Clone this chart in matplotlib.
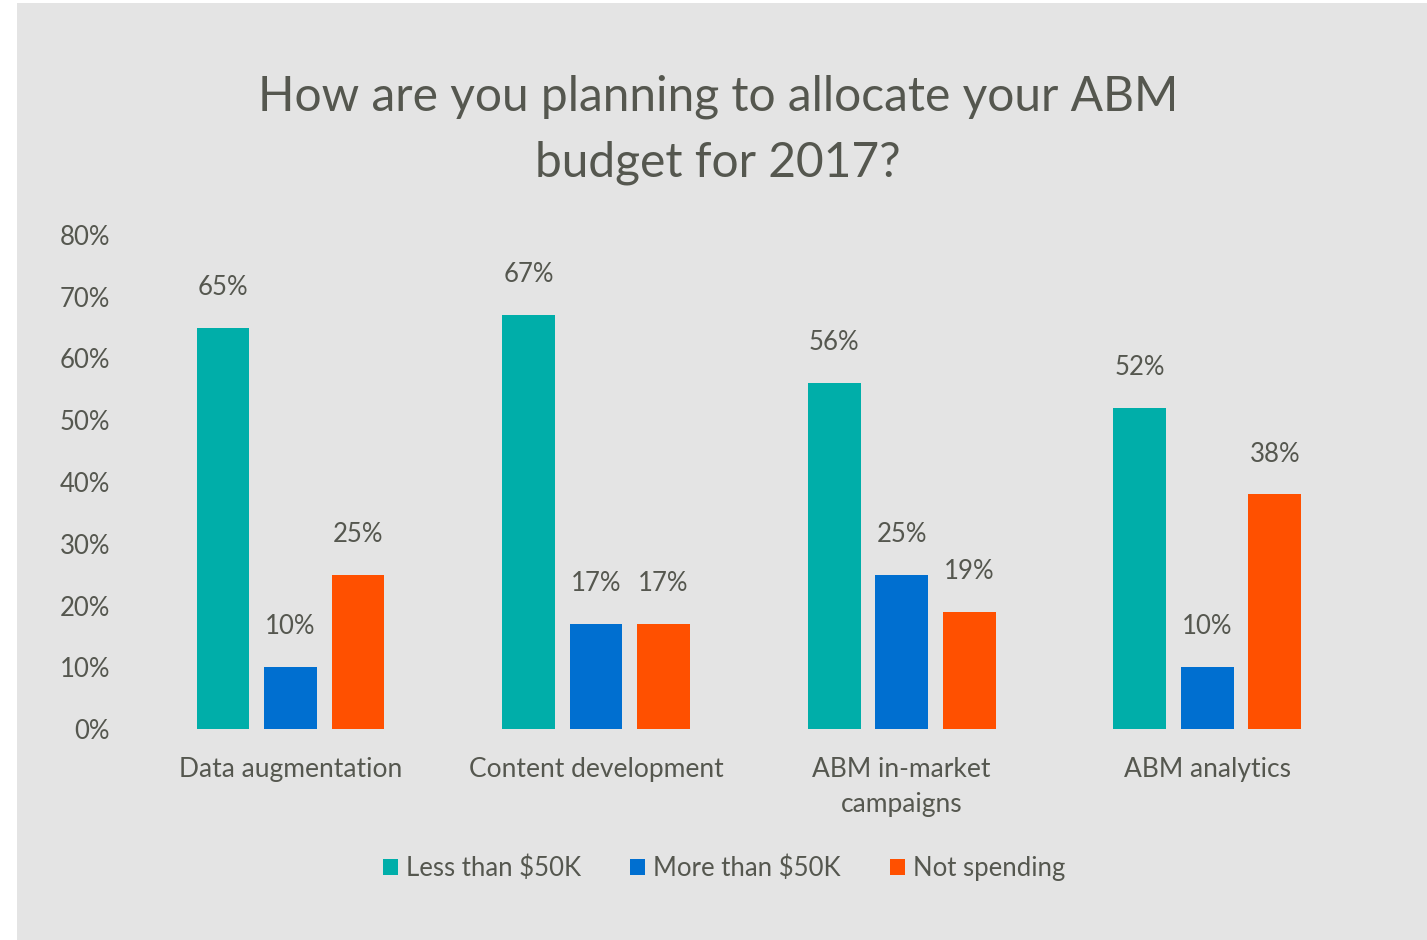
import matplotlib
matplotlib.use("Agg")
import matplotlib.pyplot as plt
from matplotlib.patches import Rectangle
import numpy as np

plt.rcParams['font.family'] = ['Lato', 'DejaVu Sans']
plt.rcParams['font.weight'] = 400

categories = ["Data augmentation", "Content development", "ABM in-market\ncampaigns", "ABM analytics"]
series_names = ["Less than $50K", "More than $50K", "Not spending"]
less_than_50k = [65, 67, 56, 52]
more_than_50k = [10, 17, 25, 10]
not_spending = [25, 17, 19, 38]
yticks = [0, 10, 20, 30, 40, 50, 60, 70, 80]

colors = ["#00AEA9", "#006FD0", "#FF5000"]
text_color = "#55574F"
bg = "#E4E4E4"

fig = plt.figure(figsize=(14.27, 9.40), dpi=100)
fig.patch.set_facecolor("white")
fig.patches.append(Rectangle((17 / 1427, 0), 1 - 17 / 1427, 1 - 3 / 940,
                             transform=fig.transFigure, facecolor=bg,
                             edgecolor="none", zorder=-10))

ax = fig.add_axes([137.7 / 1427, 1 - 729 / 940, (1360 - 137.7) / 1427, (729 - 235) / 940])
ax.set_facecolor("none")
ax.set_zorder(2)

x = np.arange(len(categories))
width = 0.173
step = 0.221
fs = 18.5
for i, (vals, name) in enumerate(zip([less_than_50k, more_than_50k, not_spending], series_names)):
    bars = ax.bar(x + (i - 1) * step, vals, width, color=colors[i], label=name, zorder=2)
    for b, v in zip(bars, vals):
        ax.annotate(f"{v}%", (b.get_x() + b.get_width() / 2, v),
                    xytext=(0, 20), textcoords="offset points",
                    ha="center", va="bottom", fontsize=fs, color=text_color)

ax.set_xlim(-0.5, len(categories) - 0.5)
ax.set_ylim(0, 80)
ax.set_yticks(yticks)
ax.set_yticklabels([f"{t}%" for t in yticks], fontsize=fs, color=text_color)
ax.set_xticks(x)
ax.set_xticklabels(categories, fontsize=19, color=text_color, linespacing=1.5)
ax.tick_params(axis="both", length=0)
ax.tick_params(axis="y", pad=20)
ax.tick_params(axis="x", pad=20)
for s in ax.spines.values():
    s.set_visible(False)

fig.text(718 / 1427, 1 - 130 / 940, "How are you planning to allocate your ABM\nbudget for 2017?",
         ha="center", va="center", fontsize=34.5, color=text_color, linespacing=1.6)

leg = fig.legend(loc="center", bbox_to_anchor=(724 / 1427, 1 - 868 / 940), ncol=3,
                 frameon=False, fontsize=fs, handlelength=0.6, handleheight=0.6,
                 handletextpad=0.3, columnspacing=1.9)
for t in leg.get_texts():
    t.set_color(text_color)

fig.savefig("out.png", dpi=100, facecolor=fig.get_facecolor())
